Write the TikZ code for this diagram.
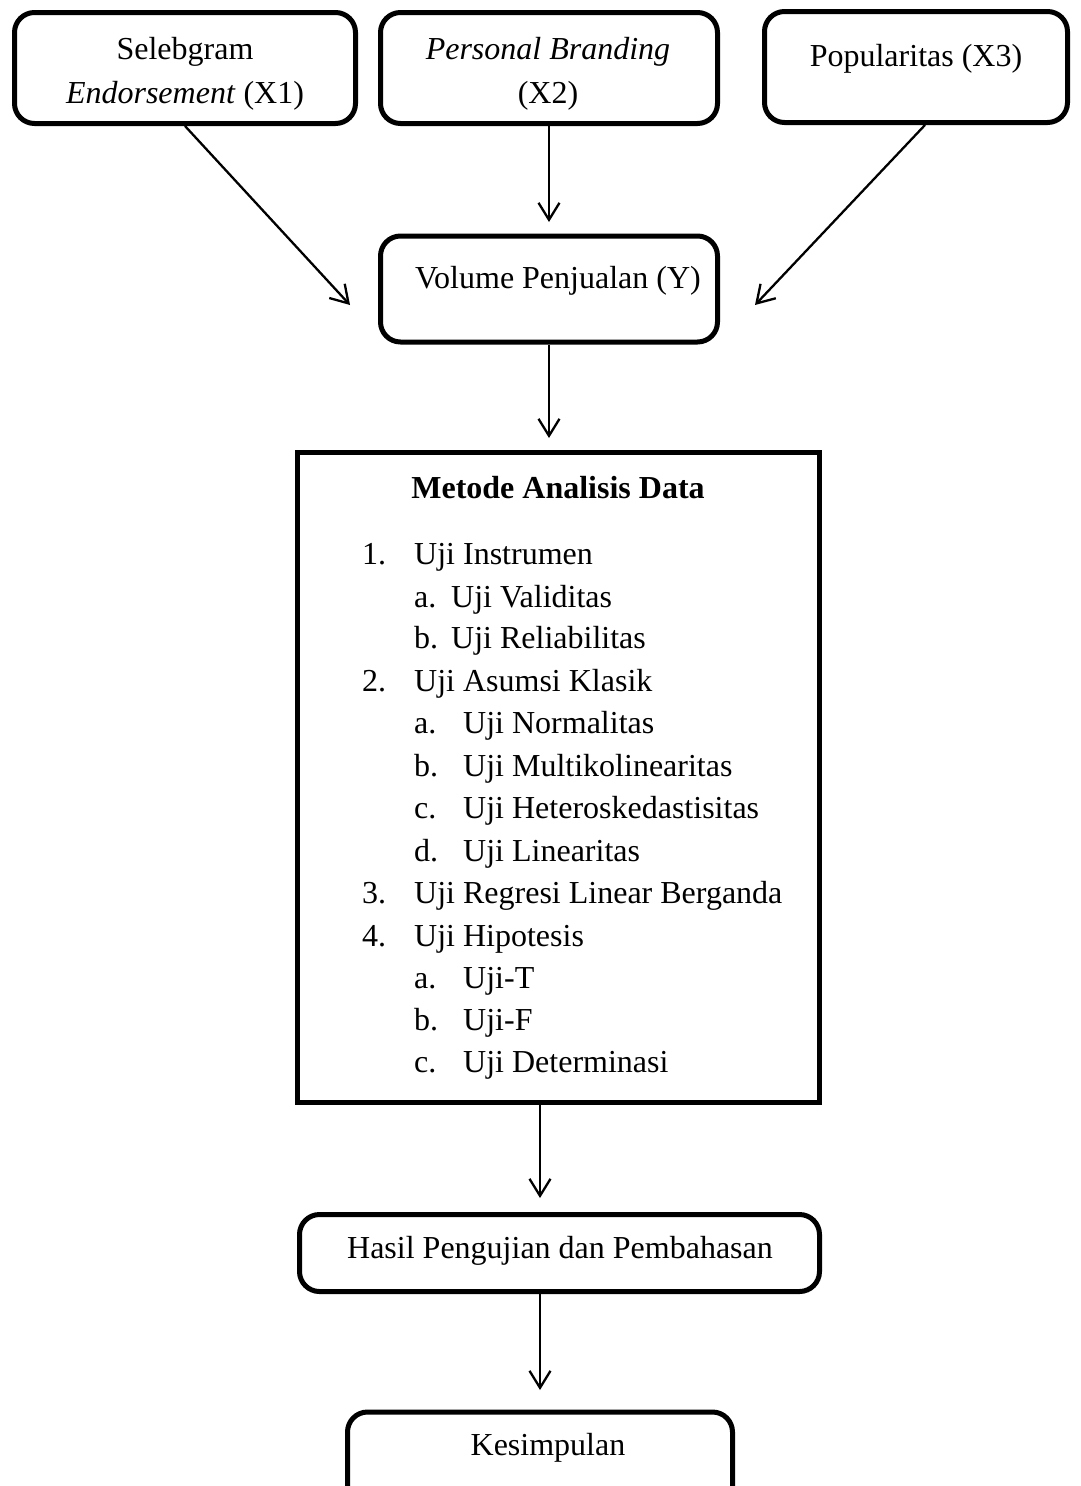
\documentclass[tikz,border=0pt]{standalone}
\usepackage{fontspec}
\setmainfont{Liberation Serif}
\usetikzlibrary{arrows.meta}
\begin{document}
\begin{tikzpicture}[x=1pt,y=-1pt,
  rbox/.style={draw, line width=5pt, rounded corners=20pt, inner sep=0pt},
  sbox/.style={draw, line width=5pt, inner sep=0pt},
  lbl/.style={font=\fontsize{32}{38}\selectfont, inner sep=0pt, anchor=base},
  itm/.style={font=\fontsize{32}{38}\selectfont, inner sep=0pt, anchor=base west},
  arr/.style={line width=2.3pt, -{Straight Barb[length=17pt,width=21pt,line width=2.3pt]}}]
\useasboundingbox (0,0) rectangle (1081,1486);
% boxes
\node[rbox, minimum width=341pt, minimum height=111pt] (x1) at (185,68) {};
\node[rbox, minimum width=337pt, minimum height=111pt] (x2) at (549,68) {};
\node[rbox, minimum width=303pt, minimum height=111pt] (x3) at (916,67) {};
\node[rbox, minimum width=337pt, minimum height=106pt] (vol) at (549,289) {};
\node[sbox, minimum width=522pt, minimum height=650pt] (met) at (558.5,777.5) {};
\node[rbox, minimum width=520pt, minimum height=77pt] (has) at (559.5,1253) {};
\node[rbox, minimum width=385pt, minimum height=106pt] (kes) at (540,1465) {};
% texts
\node[lbl] (t1a) at (185,59) {Selebgram};
\node[lbl] (t1b) at (185,103) {\textit{Endorsement} (X1)};
\node[lbl] (t2a) at (548,59) {\textit{Personal Branding}};
\node[lbl] (t2b) at (548,103) {(X2)};
\node[lbl] (t3) at (916,66) {Popularitas (X3)};
\node[lbl] (tv) at (558,288) {Volume Penjualan (Y)};
\node[lbl] (tm) at (558,498) {\textbf{Metode Analisis Data}};
\node[lbl] (th) at (560,1258) {Hasil Pengujian dan Pembahasan};
\node[lbl] (tk) at (548,1455) {Kesimpulan};
% list
\node[itm] (n1) at (362,564) {1.};
\node[itm] (i1) at (414,564) {Uji Instrumen};
\node[itm] (n1a) at (414,607) {a.};
\node[itm] (i1a) at (451,607) {Uji Validitas};
\node[itm] (n1b) at (414,648) {b.};
\node[itm] (i1b) at (451,648) {Uji Reliabilitas};
\node[itm] (n2) at (362,691) {2.};
\node[itm] (i2) at (414,691) {Uji Asumsi Klasik};
\node[itm] (n2a) at (414,733) {a.};
\node[itm] (i2a) at (463,733) {Uji Normalitas};
\node[itm] (n2b) at (414,776) {b.};
\node[itm] (i2b) at (463,776) {Uji Multikolinearitas};
\node[itm] (n2c) at (414,818) {c.};
\node[itm] (i2c) at (463,818) {Uji Heteroskedastisitas};
\node[itm] (n2d) at (414,861) {d.};
\node[itm] (i2d) at (463,861) {Uji Linearitas};
\node[itm] (n3) at (362,903) {3.};
\node[itm] (i3) at (414,903) {Uji Regresi Linear Berganda};
\node[itm] (n4) at (362,946) {4.};
\node[itm] (i4) at (414,946) {Uji Hipotesis};
\node[itm] (n4a) at (414,988) {a.};
\node[itm] (i4a) at (463,988) {Uji-T};
\node[itm] (n4b) at (414,1030) {b.};
\node[itm] (i4b) at (463,1030) {Uji-F};
\node[itm] (n4c) at (414,1072) {c.};
\node[itm] (i4c) at (463,1072) {Uji Determinasi};
% connectors
\coordinate (e1) at (350,305);
\coordinate (e2) at (549,222);
\coordinate (e3) at (755,305);
\coordinate (e4) at (549,438);
\coordinate (e5) at (540,1198);
\coordinate (e6) at (540,1390);
\draw[arr] (x1.south) -- (e1);
\draw[arr] (x2.south) -- (e2);
\draw[arr] ([xshift=9pt]x3.south) -- (e3);
\draw[arr] (vol.south) -- (e4);
\draw[arr] (met.south -| e5) -- (e5);
\draw[arr] (has.south -| e6) -- (e6);
\end{tikzpicture}
\end{document}
